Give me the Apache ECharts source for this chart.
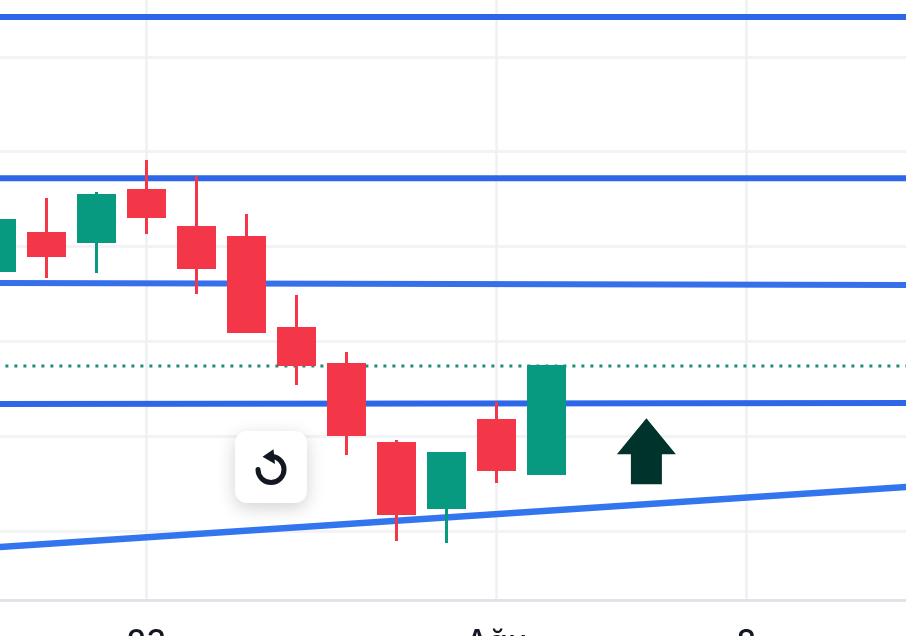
<!DOCTYPE html>
<html>
<head>
<meta charset="utf-8">
<style>html,body{margin:0;padding:0;background:#fff;overflow:hidden}#c{width:906px;height:636px}</style>
<script src="https://cdn.jsdelivr.net/npm/echarts@6/dist/echarts.min.js"></script>
</head>
<body>
<div id="c"></div>
<script>
const categories = ['18','21','22','23','24','25','28','29','30','31','Ağu','4','5','6','7','8','11','12','13','14'];
const labelledCategories = ['23','Ağu','8'];
const priceTicks = [100,110,120,130,140,150];
// [open, close, low, high]
const candles = [
  [127.46,132.74,127.46,132.74],
  [131.36,129.04,126.67,135.11],
  [130.52,135.37,127.2,135.74],
  [135.9,133.16,131.31,139.12],
  [132.0,127.78,124.98,137.43],
  [130.94,121.03,121.03,133.42],
  [121.34,117.54,115.38,124.88],
  [117.54,110.16,108.0,118.86],
  [109.21,101.83,98.92,109.58],
  [102.46,108.16,98.71,108.16],
  [111.64,106.47,105.04,113.59],
  [106.05,117.33,106.05,117.33]
];
const levelTop = [154.2,154.2];
const levelUpper = [137.2,137.2];
const levelMiddle = [126.14,125.92];
const levelLower = [113.38,113.48];
const trendLine = [98.26,104.9];
const lastPrice = [117.4,117.4];
const arrowPoint = [13,108.4];

const BLUE='#2e66ea', GREEN='#089981', RED='#f33648';
const lastIdx = categories.length-1;
const showCat = (i,name)=>labelledCategories.includes(name);
const lineSeries=(name,vals,color,width,type,z)=>({
  name,type:'line',z,symbol:'none',silent:true,animation:false,
  data:[[0,vals[0]],[lastIdx,vals[1]]],
  lineStyle:{color,width,type:type||'solid'}
});
const chart=echarts.init(document.getElementById('c'),null,{renderer:'canvas'});
chart.setOption({
  animation:false,
  backgroundColor:'#ffffff',
  grid:{left:-28.6,right:-65.4,top:0,bottom:36,containLabel:false,outerBoundsMode:'none'},
  xAxis:{
    type:'category',data:categories,boundaryGap:true,
    axisLine:{show:true,lineStyle:{color:'#e0e4e8',width:3}},
    axisTick:{show:false,alignWithLabel:true},
    splitLine:{show:true,alignWithLabel:true,interval:showCat,lineStyle:{color:'#eef0f2',width:2.5}},
    axisLabel:{show:true,interval:showCat,margin:27,fontSize:32,fontFamily:'Inter',fontWeight:500,color:'#131722',hideOverlap:false}
  },
  yAxis:{
    type:'value',min:92.7,max:156,position:'right',
    axisLine:{show:false},
    axisTick:{show:false,customValues:priceTicks},
    axisLabel:{show:false,customValues:priceTicks},
    splitLine:{show:true,lineStyle:{color:'#f2f3f5',width:3}}
  },
  series:[
    lineSeries('Last price',lastPrice,'#1f8a78',3,[3,6],2),
    lineSeries('Top',levelTop,BLUE,6,null,3),
    lineSeries('Upper',levelUpper,BLUE,6,null,3),
    lineSeries('Middle',levelMiddle,'#3570ea',6,null,3),
    lineSeries('Lower',levelLower,BLUE,6,null,3),
    lineSeries('Trend',trendLine,'#3375ee',6.5,null,3),
    {
      name:'Price',type:'candlestick',z:5,silent:true,barWidth:36.5,
      data:candles,
      itemStyle:{color:GREEN,color0:RED,borderColor:GREEN,borderColor0:RED,borderWidth:3}
    },
    {
      name:'Signal',type:'scatter',z:6,silent:true,
      data:[arrowPoint],
      symbol:'path://M29.5 0L59 36L45 36L45 66L14 66L14 36L0 36Z',
      symbolSize:[59,66],
      symbolKeepAspect:false,
      itemStyle:{color:'#00332b',opacity:1}
    }
  ],
  graphic:[
    {type:'rect',z:20,shape:{x:235,y:431,width:72,height:72,r:12},
     style:{fill:'#ffffff',shadowColor:'rgba(0,0,0,0.18)',shadowBlur:18,shadowOffsetY:5}},
    {type:'arc',z:21,shape:{cx:271,cy:469.5,r:13,startAngle:Math.PI,endAngle:-Math.PI/2+0.1,clockwise:false},
     style:{fill:null,stroke:'#131722',lineWidth:5,lineCap:'round'}},
    {type:'polygon',z:21,shape:{points:[[262.5,456.7],[273.5,449.3],[275,464]]},style:{fill:'#131722'}}
  ]
});
</script>
</body>
</html>
